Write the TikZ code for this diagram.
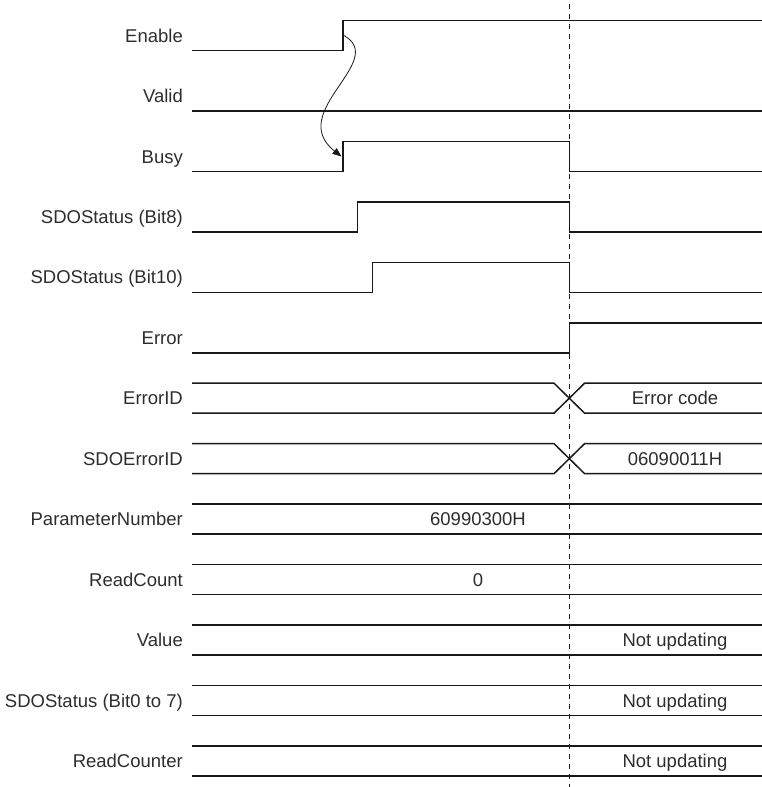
\documentclass[tikz,border=0pt]{standalone}
\usepackage{fontspec}
\setmainfont{Liberation Sans}
\usetikzlibrary{arrows.meta}
\definecolor{tdink}{RGB}{45,45,45}
\definecolor{tdwire}{RGB}{25,25,25}
\tikzset{
  lbl/.style={anchor=base east, inner sep=0pt, text=tdink,
    font=\fontsize{18.5}{20}\selectfont},
  val/.style={anchor=base, inner sep=0pt, text=tdink,
    font=\fontsize{18.5}{20}\selectfont},
  wave/.style={draw=tdwire, line width=1.5pt, line join=miter},
  cursor/.style={draw=tdwire, line width=1pt, dash pattern=on 5pt off 5pt},
  cause/.style={-{Triangle[length=9pt,width=7pt]}, draw=tdwire, line width=0.8pt}
}

\begin{document}
\begin{tikzpicture}[x=1pt,y=-1pt]
  \useasboundingbox (0,0) rectangle (762,787);
  % signal names
  \foreach \n/\t [count=\i from 0] in {en/Enable, vd/Valid, bs/Busy,
      sb8/{SDOStatus (Bit8)}, sb10/{SDOStatus (Bit10)}, er/Error, eid/ErrorID,
      sid/SDOErrorID, pn/ParameterNumber, rc/ReadCount, vl/Value,
      sb07/{SDOStatus (Bit0 to 7)}, rcr/ReadCounter}
    \node[lbl] (\n) at (183,35.5+60.45*\i+6.6) {\t};
  % bit signals
  \draw[wave] (192,50.5) -- (343,50.5) -- (343,20.5) -- (762,20.5);
  \draw[wave] (192,111) -- (762,111);
  \draw[wave] (192,171.4) -- (343,171.4) -- (343,141.4) -- (569.3,141.4)
    -- (569.3,171.4) -- (762,171.4);
  \draw[wave] (192,231.85) -- (357.3,231.85) -- (357.3,201.85) -- (569.3,201.85)
    -- (569.3,231.85) -- (762,231.85);
  \draw[wave] (192,292.3) -- (372.7,292.3) -- (372.7,262.3) -- (569.3,262.3)
    -- (569.3,292.3) -- (762,292.3);
  \draw[wave] (192,352.75) -- (569.3,352.75) -- (569.3,322.75) -- (762,322.75);
  % data signals with a change
  \foreach \r/\v in {6/Error code, 7/06090011H} {
    \pgfmathsetmacro\yc{35.5+60.45*\r}
    \draw[wave] (192,\yc-15) -- (554,\yc-15) -- (584.6,\yc+15) -- (762,\yc+15);
    \draw[wave] (192,\yc+15) -- (554,\yc+15) -- (584.6,\yc-15) -- (762,\yc-15);
    \node[val] (v\r) at (675,\yc+6.6) {\v};
  }
  % data signals held
  \foreach \r/\v/\x in {8/60990300H/478, 9/0/478, 10/Not updating/675,
      11/Not updating/675, 12/Not updating/675} {
    \pgfmathsetmacro\yc{35.5+60.45*\r}
    \draw[wave] (192,\yc-15) -- (762,\yc-15);
    \draw[wave] (192,\yc+15) -- (762,\yc+15);
    \node[val] (v\r) at (\x,\yc+6.6) {\v};
  }
  % error instant
  \coordinate (cutTop) at (569.3,4);
  \coordinate (cutBot) at (569.3,787);
  \draw[cursor] (cutTop) -- (cutBot);
  % Enable -> Busy
  \coordinate (enRise) at (343,35);
  \coordinate (bsRise) at (341.5,156.5);
  \draw[cause] (enRise) .. controls (390,60) and (285,112) .. (bsRise);
\end{tikzpicture}
\end{document}
